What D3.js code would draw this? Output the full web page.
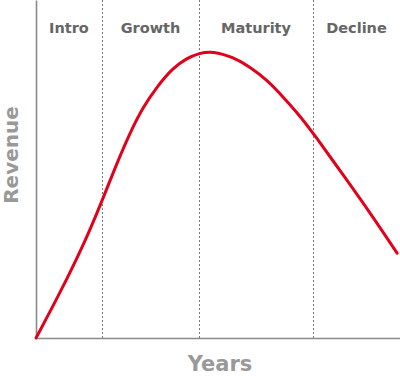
<!DOCTYPE html>
<html>
<head>
<meta charset="utf-8">
<script src="https://cdn.jsdelivr.net/npm/d3@7"></script>
<style>
  body { margin: 0; background: #fff; }
  svg { display: block; }
</style>
</head>
<body>
<div id="chart"></div>
<script>
// lifecycle curve (years 0..10, revenue 0..100)
const years = [0, 0.66, 1.37, 1.81, 2.17, 2.58, 2.94, 3.32, 3.76, 4.15, 4.48, 4.86, 5.41, 5.88, 6.35, 6.79, 7.23, 7.61, 8.54, 9.18, 9.92];
const revenue = [0, 13.3, 29.0, 40.5, 50.3, 60.7, 68.3, 74.3, 79.9, 82.8, 84.3, 84.9, 83.1, 80.2, 76.3, 71.3, 66.0, 60.7, 46.7, 37.0, 25.1];

const stages = ["Intro", "Growth", "Maturity", "Decline"];
const stageBounds = [0, 1.81, 4.48, 7.61, 10];

const width = 400, height = 377;
const margin = { top: 0, right: 0, bottom: 39, left: 36 };

const svg = d3.select("#chart").append("svg")
    .attr("width", width)
    .attr("height", height);

const x = d3.scaleLinear().domain([0, 10]).range([margin.left, width - margin.right]);
const y = d3.scaleLinear().domain([0, 100]).range([height - margin.bottom, margin.top]);

// dashed stage dividers
svg.selectAll(".divider")
    .data(stageBounds.slice(1, -1))
    .enter()
    .append("line")
    .attr("class", "divider")
    .attr("x1", d => Math.round(x(d)) + 0.5)
    .attr("x2", d => Math.round(x(d)) + 0.5)
    .attr("y1", y(100))
    .attr("y2", y(0) + 2)
    .attr("stroke", "#777")
    .attr("stroke-width", 1)
    .attr("stroke-dasharray", "2,2");

// axes without ticks
svg.append("g")
    .attr("transform", `translate(0,${y(0)})`)
    .call(d3.axisBottom(x).tickValues([]).tickSizeOuter(0));
svg.append("g")
    .attr("transform", `translate(${x(0)},0)`)
    .call(d3.axisLeft(y).tickValues([]).tickSizeOuter(0));
svg.selectAll(".domain")
    .attr("stroke", "#8a8a8a")
    .attr("stroke-width", 1.6);

// stage labels
svg.selectAll(".stage")
    .data(stages)
    .enter()
    .append("text")
    .attr("class", "stage")
    .attr("x", (d, i) => (x(stageBounds[i]) + x(stageBounds[i + 1])) / 2)
    .attr("y", 33)
    .attr("text-anchor", "middle")
    .style("font-family", "DejaVu Sans, sans-serif")
    .style("font-size", "14.5px")
    .style("font-weight", "bold")
    .style("fill", "#666")
    .text(d => d);

// curve (basis smooths out reading error)
const line = d3.line()
    .x((d, i) => x(years[i]))
    .y(d => y(d))
    .curve(d3.curveBasis);

svg.append("path")
    .datum(revenue)
    .attr("d", line)
    .attr("fill", "none")
    .attr("stroke", "#e2001a")
    .attr("stroke-width", 3)
    .attr("stroke-linecap", "round");

// axis titles
svg.append("text")
    .attr("x", (x(0) + x(10)) / 2 + 2)
    .attr("y", 371)
    .attr("text-anchor", "middle")
    .style("font-family", "DejaVu Sans, sans-serif")
    .style("font-size", "21px")
    .style("font-weight", "bold")
    .style("fill", "#999")
    .text("Years");

svg.append("text")
    .attr("transform", "translate(18,155) rotate(-90)")
    .attr("text-anchor", "middle")
    .style("font-family", "DejaVu Sans, sans-serif")
    .style("font-size", "20px")
    .style("font-weight", "bold")
    .style("fill", "#999")
    .text("Revenue");
</script>
</body>
</html>
